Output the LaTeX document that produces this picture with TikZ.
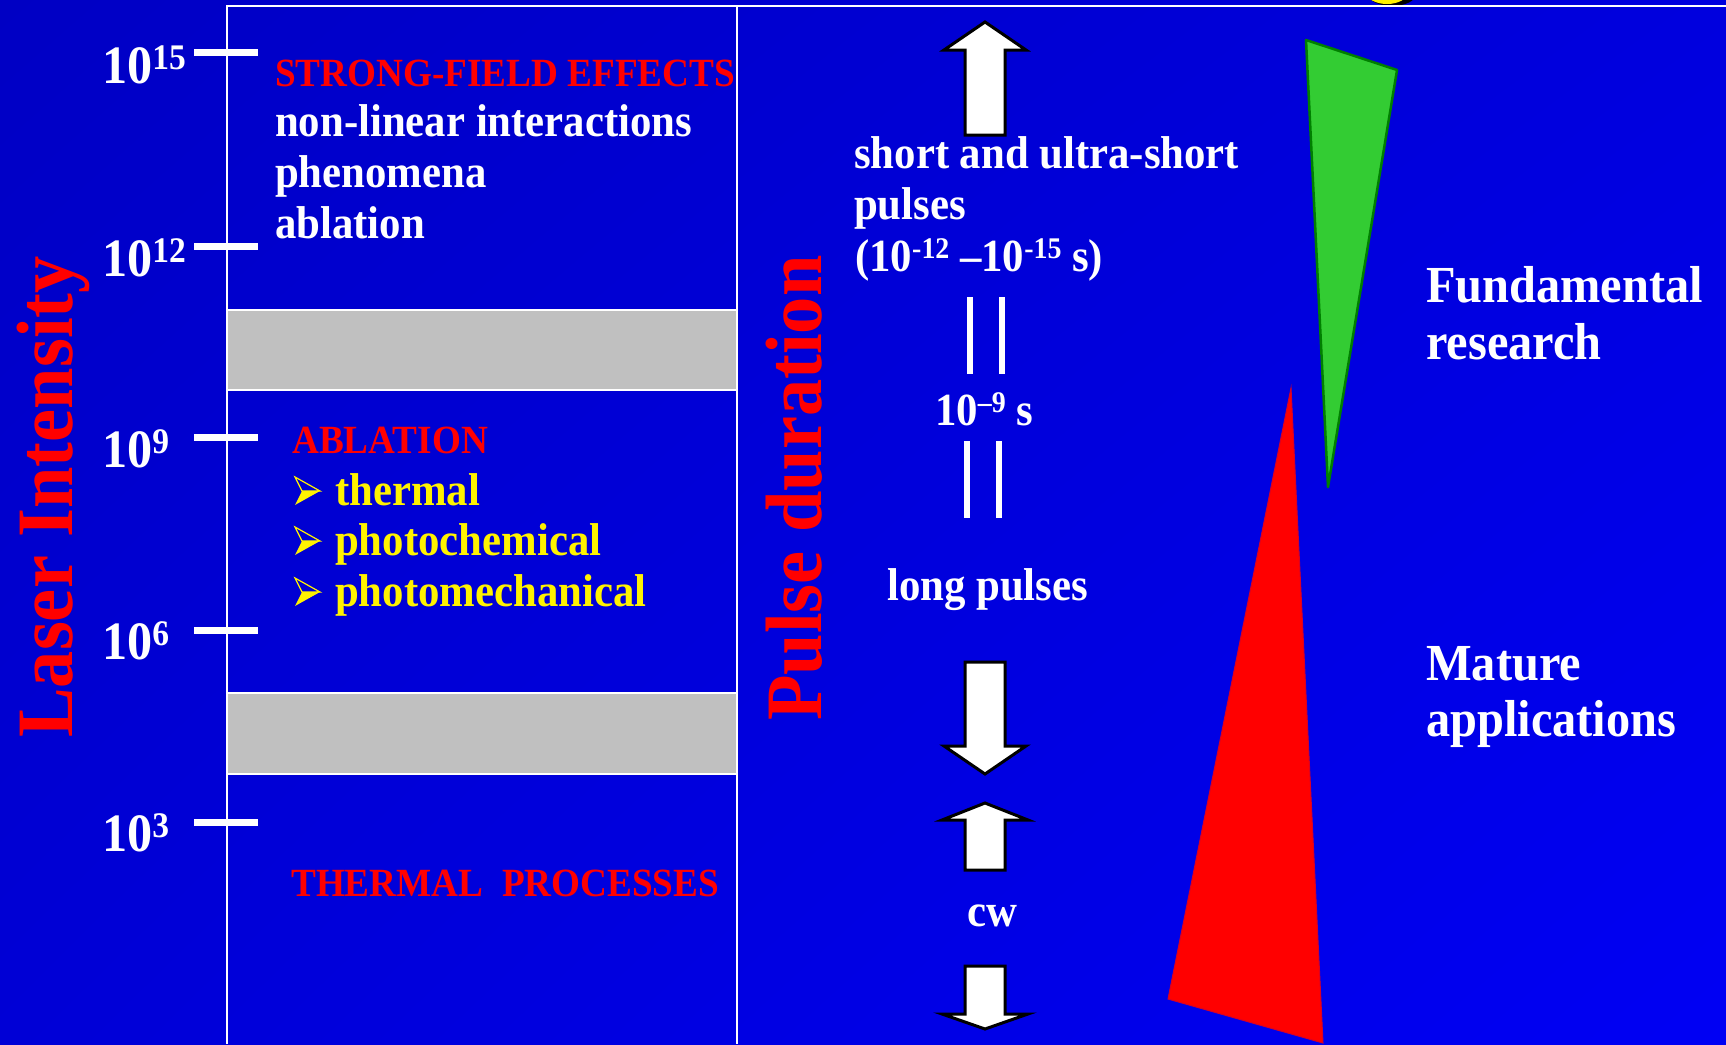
\documentclass[tikz,border=0pt]{standalone}
\usepackage{fontspec}
\usetikzlibrary{shadings}
\setmainfont{Liberation Serif}[FakeStretch=0.93]
\definecolor{bandgray}{RGB}{192,192,192}
\definecolor{grfill}{RGB}{51,204,51}
\definecolor{grdark}{RGB}{0,128,0}
\definecolor{bgUL}{RGB}{0,0,196}
\definecolor{bgUR}{RGB}{0,0,222}
\definecolor{bgLL}{RGB}{0,0,214}
\definecolor{bgLR}{RGB}{0,0,244}
\newcommand\tsup[1]{\raisebox{14pt}{\fontsize{36}{36}\selectfont #1}}
\newcommand\ssup[1]{\raisebox{13pt}{\fontsize{30}{30}\selectfont #1}}
\begin{document}
\begin{tikzpicture}[x=1pt,y=-1pt,
  txt/.style={inner sep=0pt, anchor=base west, font=\bfseries\fontsize{46}{46}\selectfont},
  wht/.style={txt, text=white},
  ylw/.style={txt, text=yellow},
  redcap/.style={txt, text=red, font=\bfseries\fontsize{40}{40}\selectfont},
  ticklbl/.style={txt, text=white, font=\bfseries\fontsize{54}{54}\selectfont},
  axislbl/.style={inner sep=0pt, anchor=base, rotate=90, text=red, font=\bfseries\fontsize{80}{80}\selectfont},
  lblside/.style={txt, text=white, font=\bfseries\fontsize{52}{52}\selectfont},
  tickbar/.style={white, line width=7pt},
  framel/.style={white, line width=2pt},
  bandbox/.style={fill=bandgray, draw=white, line width=2pt},
  barline/.style={white, line width=6pt},
  blockarrow/.style={fill=white, draw=black, line width=3pt, line join=miter},
  ybullet/.pic={
    \fill[yellow] (7,0) -- (25,0) -- (0,14) -- cycle;
    \draw[yellow, line width=1.2pt, line join=miter] (0,-14) -- (25,0) -- (7,0) -- cycle;
  }
]
\useasboundingbox (0,0) rectangle (1726,1044);
% background
\shade[upper left=bgUL, upper right=bgUR, lower left=bgLL, lower right=bgLR] (0,0) rectangle (1726,1044);

% yellow blob at top (clipped)
\begin{scope}
  \clip (0,0) rectangle (1726,7);
  \fill[black] (1392,-6) ellipse [x radius=24, y radius=12];
  \fill[yellow] (1387,-8) ellipse [x radius=21, y radius=12];
\end{scope}

% grey bands
\draw[bandbox] (227,310) rectangle (737,390);
\draw[bandbox] (227,693) rectangle (737,774);

% frame lines
\draw[framel] (227,1044) -- (227,6) -- (1726,6);
\draw[framel] (737,6) -- (737,1044);

% ticks
\foreach \ty in {52,246,437,630,822} \draw[tickbar] (194,\ty) -- (258,\ty);

% tick labels
\node[ticklbl] (t15) at (102,83) {10\tsup{15}};
\node[ticklbl] (t12) at (102,276) {10\tsup{12}};
\node[ticklbl] (t9) at (102,467) {10\tsup{9}};
\node[ticklbl] (t6) at (102,659) {10\tsup{6}};
\node[ticklbl] (t3) at (102,851) {10\tsup{3}};

% axis labels
\node[axislbl] (li) at (72,497) {Laser Intensity};
\node[axislbl] (pd) at (821,488) {Pulse duration};

% left column texts
\node[redcap] (sfe) at (275,86) {STRONG-FIELD EFFECTS};
\node[wht] (nli) at (275,136) {non-linear interactions};
\node[wht] (phe) at (275,187) {phenomena};
\node[wht] (abl) at (275,238) {ablation};
\node[redcap] (ABL) at (292,453) {ABLATION};
\pic at (295,491) {ybullet};
\pic at (295,541) {ybullet};
\pic at (295,592) {ybullet};
\node[ylw] (th) at (335,505) {thermal};
\node[ylw] (pc) at (335,555) {photochemical};
\node[ylw] (pm) at (335,606) {photomechanical};
\node[redcap] (tp) at (291,896) {THERMAL\ \ PROCESSES};

% middle column
\draw[blockarrow] (985,22) -- (1026,50) -- (1005,50) -- (1005,135) -- (965,135) -- (965,50) -- (944,50) -- cycle;
\node[wht] (sus) at (854,168) {short and ultra-short};
\node[wht] (pul) at (854,219) {pulses};
\node[wht] (rng) at (855,271) {(10\ssup{-12} –10\ssup{-15} s)};
\draw[barline] (970,297) -- (970,374);
\draw[barline] (1002,297) -- (1002,374);
\node[wht] (ns) at (935,425) {10\ssup{–9} s};
\draw[barline] (967,441) -- (967,518);
\draw[barline] (999,441) -- (999,518);
\node[wht] (lp) at (887,600) {long pulses};
\draw[blockarrow] (965,662) -- (1005,662) -- (1005,746) -- (1026,746) -- (985,774) -- (944,746) -- (965,746) -- cycle;
\draw[blockarrow] (985,803) -- (1028,820) -- (1005,820) -- (1005,870) -- (965,870) -- (965,820) -- (942,820) -- cycle;
\node[wht, anchor=base] (cw) at (992,926) {cw};
\draw[blockarrow] (965,966) -- (1005,966) -- (1005,1014) -- (1028,1014) -- (985,1029) -- (942,1014) -- (965,1014) -- cycle;

% triangles
\filldraw[fill=grfill, draw=grdark, line width=2.5pt, line join=round] (1306,40) -- (1397,70) -- (1328,487) -- cycle;
\filldraw[fill=red, draw=red!85!blue, line width=1pt] (1291,388) -- (1323,1043) -- (1168,999) -- cycle;

% right labels
\node[lblside] (fr1) at (1426,302) {Fundamental};
\node[lblside] (fr2) at (1426,359) {research};
\node[lblside] (ma1) at (1426,680) {Mature};
\node[lblside] (ma2) at (1426,736) {applications};
\end{tikzpicture}
\end{document}
